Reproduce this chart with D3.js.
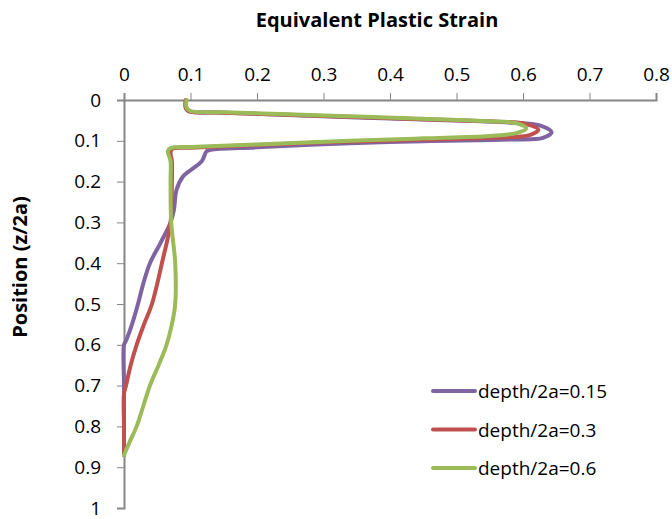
<!DOCTYPE html>
<html>
<head>
<meta charset="utf-8">
<script src="https://cdn.jsdelivr.net/npm/d3@7"></script>
<style>
  body { margin: 0; background: #fff; }
  text { font-family: "Open Sans", "Liberation Sans", sans-serif; }
</style>
</head>
<body>
<div id="chart"></div>
<script>
// strain (x) vs position (y) for each depth
var names = ["depth/2a=0.15", "depth/2a=0.3", "depth/2a=0.6"];
var colors = ["#8064A2", "#C0504D", "#9BBB59"];

var strain15 = [0.093, 0.093, 0.098, 0.15, 0.3, 0.45, 0.58, 0.625, 0.643, 0.63, 0.58, 0.45, 0.34, 0.2, 0.13, 0.124, 0.117, 0.1, 0.089, 0.079, 0.075, 0.07, 0.055, 0.039, 0.029, 0.021, 0.012, 0.003, 0, 0, 0, 0];
var pos15    = [0, 0.02, 0.028, 0.031, 0.04, 0.048, 0.055, 0.062, 0.079, 0.093, 0.097, 0.101, 0.106, 0.116, 0.122, 0.126, 0.15, 0.172, 0.187, 0.22, 0.27, 0.3, 0.35, 0.4, 0.45, 0.5, 0.55, 0.59, 0.6, 0.7, 0.8, 0.87];

var strain30 = [0.093, 0.093, 0.099, 0.15, 0.3, 0.45, 0.56, 0.605, 0.623, 0.61, 0.56, 0.45, 0.34, 0.2, 0.1, 0.072, 0.07, 0.072, 0.072, 0.07, 0.057, 0.042, 0.03, 0.019, 0.01, 0.003, 0, 0, 0.0];
var pos30    = [0, 0.02, 0.028, 0.031, 0.039, 0.047, 0.053, 0.059, 0.073, 0.086, 0.092, 0.097, 0.102, 0.11, 0.117, 0.12, 0.13, 0.15, 0.2, 0.3, 0.4, 0.5, 0.55, 0.6, 0.65, 0.7, 0.72, 0.8, 0.87];

var strain60 = [0.094, 0.094, 0.1, 0.15, 0.3, 0.45, 0.55, 0.59, 0.605, 0.59, 0.55, 0.45, 0.34, 0.2, 0.1, 0.07, 0.066, 0.07, 0.07, 0.071, 0.077, 0.077, 0.072, 0.064, 0.052, 0.039, 0.029, 0.019, 0.008, 0];
var pos60    = [0, 0.018, 0.027, 0.03, 0.038, 0.046, 0.052, 0.057, 0.069, 0.081, 0.088, 0.094, 0.1, 0.109, 0.115, 0.118, 0.125, 0.15, 0.2, 0.3, 0.4, 0.5, 0.55, 0.6, 0.65, 0.7, 0.75, 0.8, 0.84, 0.87];

var xTicks = [0, 0.1, 0.2, 0.3, 0.4, 0.5, 0.6, 0.7, 0.8];
var yTicks = [0, 0.1, 0.2, 0.3, 0.4, 0.5, 0.6, 0.7, 0.8, 0.9, 1];

var w = 672, h = 519;
var margin = {top: 100, right: 16, bottom: 11, left: 124};

var series = [
    {name: names[0], color: colors[0], x: strain15, y: pos15},
    {name: names[1], color: colors[1], x: strain30, y: pos30},
    {name: names[2], color: colors[2], x: strain60, y: pos60}
];

var xScale = d3.scaleLinear().domain([0, 0.8]).range([margin.left, w - margin.right]);
var yScale = d3.scaleLinear().domain([0, 1]).range([margin.top, h - margin.bottom]);

var svg = d3.select("#chart").append("svg")
    .attr("width", w)
    .attr("height", h);

// axes
var xAxis = d3.axisTop(xScale).tickValues(xTicks).tickFormat(d3.format("")).tickSize(7).tickPadding(12);
var yAxis = d3.axisLeft(yScale).tickValues(yTicks).tickFormat(d3.format("")).tickSize(7).tickPadding(16);

var gx = svg.append("g")
    .attr("transform", "translate(0," + margin.top + ")")
    .call(xAxis);
var gy = svg.append("g")
    .attr("transform", "translate(" + margin.left + ",0)")
    .call(yAxis);

[gx, gy].forEach(function(g) {
    g.select(".domain").attr("stroke", "#868686").attr("stroke-width", 2);
    g.selectAll(".tick line").attr("stroke", "#868686").attr("stroke-width", 1);
    g.selectAll(".tick text").attr("font-size", "19px").attr("fill", "#000")
        .style("font-family", "'Open Sans', 'Liberation Sans', sans-serif");
});

// lines
var line = d3.line()
    .x(function(d) { return xScale(d[0]); })
    .y(function(d) { return yScale(d[1]); })
    .curve(d3.curveCatmullRom.alpha(0.5));

series.forEach(function(s) {
    var pts = s.x.map(function(v, i) { return [v, s.y[i]]; });
    svg.append("path")
        .datum(pts)
        .attr("fill", "none")
        .attr("stroke", s.color)
        .attr("stroke-width", 4)
        .attr("stroke-linejoin", "round")
        .attr("stroke-linecap", "round")
        .attr("d", line);
});

// titles
svg.append("text")
    .attr("x", 377)
    .attr("y", 27)
    .attr("text-anchor", "middle")
    .attr("font-size", "20px")
    .attr("font-weight", "bold")
    .text("Equivalent Plastic Strain");

svg.append("text")
    .attr("transform", "translate(27,267) rotate(-90)")
    .attr("text-anchor", "middle")
    .attr("font-size", "20px")
    .attr("font-weight", "bold")
    .text("Position (z/2a)");

// legend
var legend = svg.append("g").attr("transform", "translate(433,391)");
series.forEach(function(s, i) {
    var row = legend.append("g").attr("transform", "translate(0," + (i * 38.5) + ")");
    row.append("line")
        .attr("x1", 0).attr("x2", 42)
        .attr("stroke", s.color)
        .attr("stroke-width", 4)
        .attr("stroke-linecap", "round");
    row.append("text")
        .attr("x", 45)
        .attr("y", 7)
        .attr("font-size", "19px")
        .text(s.name);
});
</script>
</body>
</html>
